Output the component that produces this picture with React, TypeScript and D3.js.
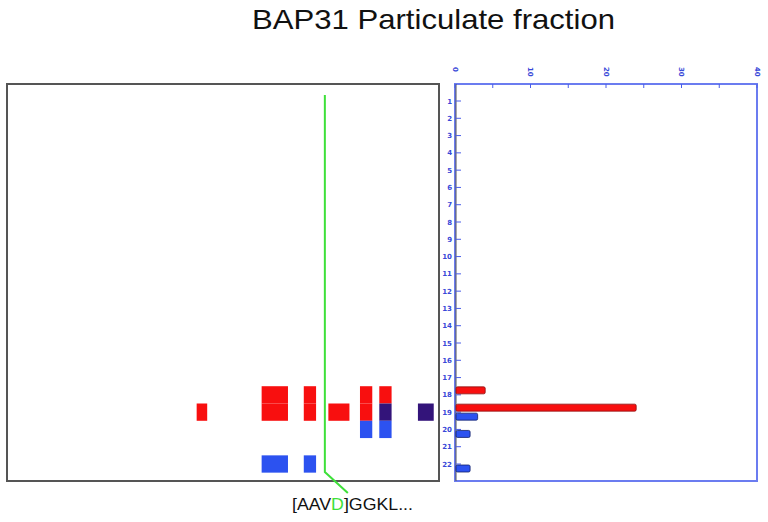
import * as d3 from "d3";

// peptides along the BAP31 sequence (residue start / end)
const peptideStart = [108, 145, 169, 183, 201, 212, 234];
const peptideEnd = [114, 160, 176, 195, 208, 219, 243];
// fraction rows where each peptide was seen, per condition
const redRows = [[19], [18, 19], [18, 19], [19], [18, 19], [18, 19], [19]];
const blueRows = [[], [22], [22], [], [20], [19, 20], [19]];

const rows = d3.range(1, 23);
// spectral counts per fraction (right panel)
const redCounts = [{ row: 18, value: 4 }, { row: 19, value: 24 }];
const blueCounts = [{ row: 19, value: 3 }, { row: 20, value: 2 }, { row: 22, value: 2 }];
const countTicks = [0, 10, 20, 30, 40];
const minorTicks = [5, 15, 25, 35];

const cleavageSite = 181;

const RED = "#f80f0f";
const BLUE = "#2c52f0";
const BOTH = "#33147a";

const App = () => {
  const xRes = d3.scaleLinear().domain([0, 246]).range([7, 439]);
  const yRow = d3.scaleLinear().domain([1, 22]).range([101, 464]);
  const rowH = yRow(2) - yRow(1);
  const xCount = d3.scaleLinear().domain([0, 40]).range([455, 757]);

  const cells: { x0: number; x1: number; row: number; color: string }[] = [];
  peptideStart.forEach((s, i) => {
    const rr = redRows[i];
    const bb = blueRows[i];
    rows.forEach((r) => {
      const hasR = rr.includes(r);
      const hasB = bb.includes(r);
      if (!hasR && !hasB) return;
      cells.push({
        x0: s,
        x1: peptideEnd[i],
        row: r,
        color: hasR && hasB ? BOTH : hasR ? RED : BLUE,
      });
    });
  });

  const top = 84;
  const bottom = 481;
  const cx = xRes(cleavageSite);

  return (
    <div style={{ position: "absolute", left: 0, top: 0 }}>
      <svg width={768} height={522} style={{ display: "block", background: "#fff" }}>
        <text
          x={252}
          y={29}
          textLength={363}
          lengthAdjust="spacingAndGlyphs"
          fontFamily="Liberation Sans, Arial, sans-serif"
          fontSize={28}
          fill="#111"
        >
          BAP31 Particulate fraction
        </text>

        {/* left panel */}
        <rect x={7} y={top} width={432} height={bottom - top} fill="#fff" stroke="#555" strokeWidth={2} />
        {cells.map((c, i) => (
          <rect
            key={i}
            x={xRes(c.x0)}
            y={yRow(c.row) - rowH / 2}
            width={xRes(c.x1) - xRes(c.x0)}
            height={rowH}
            fill={c.color}
          />
        ))}
        <polyline
          points={`${cx},95 ${cx},472 ${cx + 23},493`}
          fill="none"
          stroke="#3ee03a"
          strokeWidth={2}
        />
        <text
          x={292}
          y={510}
          textLength={121}
          lengthAdjust="spacingAndGlyphs"
          fontFamily="Liberation Sans, Arial, sans-serif"
          fontSize={17}
          fill="#111"
        >
          [AAV<tspan fill="#3ee03a">D</tspan>]GGKL...
        </text>

        {/* right panel */}
        <rect x={455} y={top} width={302} height={bottom - top} fill="#fff" stroke="#6b7cf0" strokeWidth={2} />
        <line x1={456} x2={456} y1={top} y2={bottom} stroke="#555" strokeWidth={1} />
        {countTicks.map((t) => (
          <g key={t}>
            <line x1={xCount(t)} x2={xCount(t)} y1={top} y2={top + 4} stroke="#4a5ee8" strokeWidth={1} />
            <text
              transform={`translate(${xCount(t) - 2.5},${67}) rotate(90)`}
              fontFamily="DejaVu Sans, sans-serif"
              fontSize={7}
              fontWeight="bold"
              fill="#3848d8"
            >
              {t}
            </text>
          </g>
        ))}
        {minorTicks.map((t) => (
          <line key={t} x1={xCount(t)} x2={xCount(t)} y1={top} y2={top + 4} stroke="#4a5ee8" strokeWidth={1} />
        ))}
        {rows.map((r) => (
          <g key={r}>
            <line x1={456} x2={461} y1={yRow(r)} y2={yRow(r)} stroke="#4a5ee8" strokeWidth={1} />
            <text
              x={452}
              y={yRow(r) + 2.5}
              textAnchor="end"
              fontFamily="DejaVu Sans, sans-serif"
              fontSize={7}
              fontWeight="bold"
              fill="#3848d8"
            >
              {r}
            </text>
          </g>
        ))}
        {redCounts.map((d) => (
          <rect
            key={"r" + d.row}
            x={xCount(0) + 1}
            y={yRow(d.row) - 8}
            width={xCount(d.value) - xCount(0) - 1}
            height={7}
            fill={RED}
            stroke="#8a1010"
            strokeWidth={0.8}
            rx={1.5}
          />
        ))}
        {blueCounts.map((d) => (
          <rect
            key={"b" + d.row}
            x={xCount(0) + 1}
            y={yRow(d.row) + 1}
            width={xCount(d.value) - xCount(0) - 1}
            height={7}
            fill={BLUE}
            stroke="#10206a"
            strokeWidth={0.8}
            rx={1.5}
          />
        ))}
      </svg>
    </div>
  );
};

export default App;
